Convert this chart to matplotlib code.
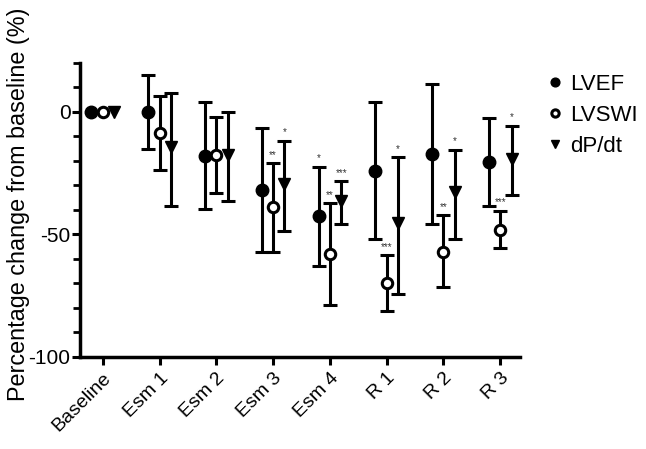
import numpy as np
import matplotlib
matplotlib.use("Agg")
import matplotlib.pyplot as plt
from matplotlib.ticker import MultipleLocator

plt.rcParams['font.family'] = ['Liberation Sans', 'DejaVu Sans']
plt.rcParams['axes.unicode_minus'] = False

# data (percent change from baseline)
stages = ["Baseline", "Esm 1", "Esm 2", "Esm 3", "Esm 4", "R 1", "R 2", "R 3"]

lvef = [0, 0, -17.9, -32, -42.5, -24, -17.2, -20.6]
lvef_hi = [0, 15, 4, -6.6, -22.3, 4.2, 11.5, -2.6]
lvef_lo = [0, -15.2, -39.8, -57, -63, -51.8, -45.9, -38.4]
lvef_sig = ["", "", "", "", "*", "", "", ""]

lvswi = [0, -8.6, -17.5, -39, -58, -69.8, -57, -48]
lvswi_hi = [0, 6.4, -1.9, -21, -37.3, -58.6, -42.2, -40.4]
lvswi_lo = [0, -23.6, -33.2, -57, -78.8, -81.4, -71.6, -55.6]
lvswi_sig = ["", "", "", "**", "**", "***", "**", "***"]

dpdt = [0, -14.5, -17.5, -29.5, -36.3, -45.2, -32.6, -19.3]
dpdt_hi = [0, 7.8, 0.1, -11.8, -28.4, -18.6, -15.4, -5.6]
dpdt_lo = [0, -38.4, -36.5, -48.8, -45.9, -74.2, -52, -34]
dpdt_sig = ["", "", "", "*", "***", "*", "*", "*"]

series = [
    ("LVEF", lvef, lvef_hi, lvef_lo, lvef_sig, -0.2, dict(marker='o', mfc='black', ms=9)),
    ("LVSWI", lvswi, lvswi_hi, lvswi_lo, lvswi_sig, 0.0, dict(marker='o', mfc='white', ms=7.5, mew=2.2)),
    ("dP/dt", dpdt, dpdt_hi, dpdt_lo, dpdt_sig, 0.2, dict(marker='v', mfc='black', ms=9)),
]

fig = plt.figure(figsize=(6.46, 4.49), dpi=100)
ax = fig.add_axes([0.124, 0.205, 0.681, 0.655])

x = np.arange(len(stages))
for name, y, hi, lo, sig, off, style in series:
    y = np.array(y, dtype=float)
    err = np.vstack([y - np.array(lo), np.array(hi) - y])
    # no error bars at baseline
    ax.errorbar(x[1:] + off, y[1:], yerr=err[:, 1:], fmt='none', ecolor='black',
                elinewidth=2.2, capsize=4.8, capthick=2.2, zorder=2)
    ax.plot(x + off, y, linestyle='none', color='black', mec='black', zorder=3,
            label=name, **style)
    for xi, top, s in zip(x + off, hi, sig):
        if s:
            ax.annotate(s, (xi, top), xytext=(0, 2.5), textcoords='offset points',
                        ha='center', va='bottom', fontsize=7, color='#333333')

ax.set_xlim(-0.4, 7.35)
ax.set_ylim(-100, 20)
ax.set_xticks(x)
ax.set_xticklabels(stages, rotation=45, ha='right', rotation_mode='anchor', fontsize=14)
ax.set_yticks([0, -50, -100])
ax.yaxis.set_minor_locator(MultipleLocator(10))
ax.tick_params(axis='y', labelsize=15, width=2.2, length=6, direction='out', pad=1)
ax.tick_params(axis='y', which='minor', width=2, length=5)
ax.tick_params(axis='x', width=2.2, length=6, direction='out', pad=3)
ax.set_ylabel("Percentage change from baseline (%)", fontsize=16.8)
ax.yaxis.set_label_coords(-0.113, 0.52)

for side in ['top', 'right']:
    ax.spines[side].set_visible(False)
for side in ['left', 'bottom']:
    ax.spines[side].set_linewidth(2.5)

ax.legend(loc='upper left', bbox_to_anchor=(1.04, 1.0), frameon=False, fontsize=16,
          markerscale=0.7, handlelength=0.6, handletextpad=0.35, labelspacing=0.45,
          borderpad=0)

fig.savefig("out.png", dpi=100)
